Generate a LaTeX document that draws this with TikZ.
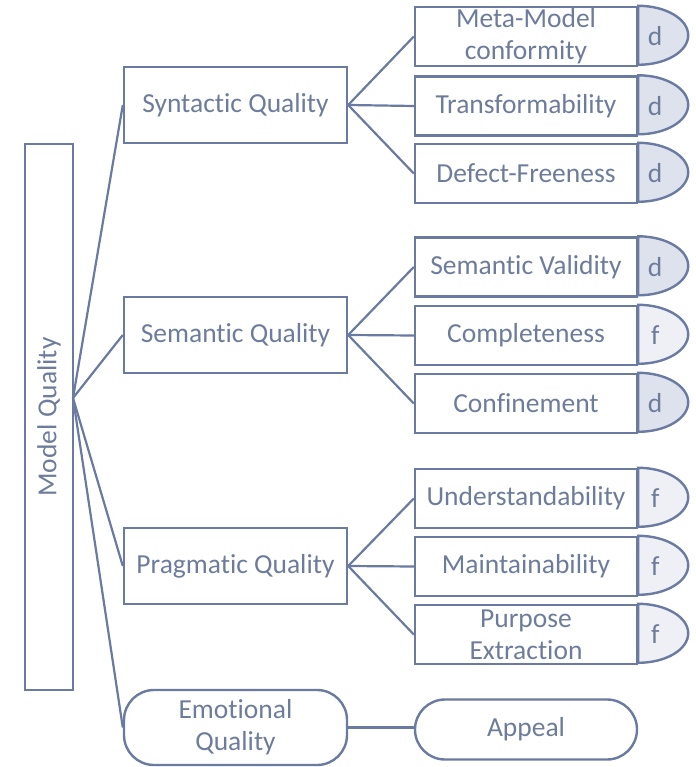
\documentclass[tikz,border=0pt]{standalone}
\usepackage{fontspec}
\setmainfont{Carlito}[Ligatures=NoCommon]
\definecolor{strokec}{RGB}{106,122,160}
\definecolor{textc}{RGB}{110,124,156}
\definecolor{dfill}{RGB}{221,226,237}
\definecolor{ffill}{RGB}{238,240,246}
\begin{document}
\begin{tikzpicture}[x=1pt,y=-1pt,
  every node/.style={text=textc, font=\fontsize{27.5}{32}\selectfont},
  mainbox/.style={draw=strokec, line width=2.4pt, fill=white, minimum width=223pt, minimum height=76pt, inner sep=0pt, align=center},
  subbox/.style={draw=strokec, line width=2.4pt, fill=white, minimum width=222pt, minimum height=59pt, inner sep=0pt, align=center},
  pillbox/.style={draw=strokec, line width=2.4pt, fill=white, rounded corners=30pt, inner sep=0pt, align=center},
  conn/.style={draw=strokec, line width=2.2pt},
  capd/.style={draw=strokec, line width=2.4pt, fill=dfill},
  capf/.style={draw=strokec, line width=2.4pt, fill=ffill}
]
\useasboundingbox (0,0) rectangle (695,767);

% root
\node[draw=strokec, line width=2.4pt, minimum width=48pt, minimum height=546pt, inner sep=0pt] (mq) at (49,417) {};
\node[rotate=90] (mqt) at (49,417) {Model Quality};
\coordinate (fan) at (73,398);

% main boxes
\node[mainbox] (syn) at (235.5,105) {Syntactic Quality};
\node[mainbox] (sem) at (235.5,335) {Semantic Quality};
\node[mainbox] (pra) at (235.5,566) {Pragmatic Quality};
\node[pillbox, minimum width=223pt, minimum height=75pt] (emo) at (235.5,727.5) {Emotional\\Quality};
\node[pillbox, minimum width=222pt, minimum height=60pt] (app) at (526,729.5) {Appeal};

% sub boxes
\node[subbox] (s1) at (526,36.5) {Meta-Model\\conformity};
\node[subbox] (s2) at (526,106) {Transformability};
\node[subbox] (s3) at (526,173.5) {Defect-Freeness};
\node[subbox] (m1) at (526,267) {Semantic Validity};
\node[subbox] (m2) at (526,335.5) {Completeness};
\node[subbox] (m3) at (526,403.5) {Confinement};
\node[subbox] (p1) at (526,498.5) {Understandability};
\node[subbox] (p2) at (526,566.5) {Maintainability};
\node[subbox] (p3) at (526,634.5) {Purpose\\Extraction};

% caps
\foreach \n/\st/\l in {s1/capd/d, s2/capd/d, s3/capd/d, m1/capd/d, m2/capf/f, m3/capd/d, p1/capf/f, p2/capf/f, p3/capf/f}{
  \draw[\st] (\n.north east) arc[start angle=90, end angle=-90, x radius=50pt, y radius=29.5pt] -- cycle;
  \node[anchor=center] (\n-cap) at ([xshift=17pt]\n.east) {\l};
}

% connectors
\draw[conn] (fan) -- (syn.west);
\draw[conn] (fan) -- (sem.west);
\draw[conn] (fan) -- (pra.west);
\draw[conn] (fan) -- (emo.west);
\foreach \a/\b in {syn/s1, syn/s2, syn/s3, sem/m1, sem/m2, sem/m3, pra/p1, pra/p2, pra/p3}{
  \draw[conn] (\a.east) -- (\b.west);
}
\draw[conn] (emo.east) -- (emo.east -| app.west);
\end{tikzpicture}
\end{document}
